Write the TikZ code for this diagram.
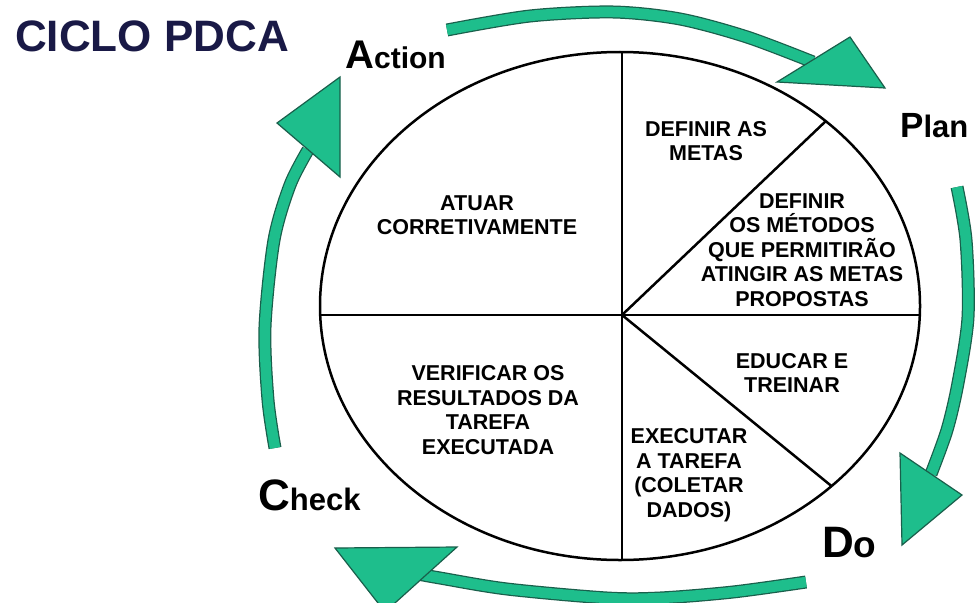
\documentclass[tikz,border=0pt]{standalone}
\usepackage{fontspec}
\setmainfont{Liberation Sans}
\definecolor{pdcagreen}{RGB}{30,190,140}
\definecolor{pdcaedge}{RGB}{25,95,75}
\definecolor{navy}{RGB}{25,25,70}
\begin{document}
\begin{tikzpicture}[x=1pt,y=-1pt,
  txt/.style={font=\fontsize{21.5}{24.5}\selectfont\bfseries, align=center, text=black, inner sep=0pt},
  lbl/.style={anchor=base west, inner sep=0pt, text=black, font=\bfseries},
  shaft/.style={draw=pdcagreen, line width=10.5pt, preaction={draw=pdcaedge, line width=13pt}},
  head/.style={fill=pdcagreen, draw=pdcaedge, line width=1.2pt, line join=miter},
  rim/.style={line width=2.5pt, draw=black}]
\useasboundingbox (0,0) rectangle (976,602);
\clip (0,0) rectangle (976,602);
\fill[white] (0,0) rectangle (976,602);

% ellipse and dividers
\draw[rim] (620,306) ellipse [x radius=300pt, y radius=254pt];
\coordinate (O) at (622,315);
\begin{scope}
  \clip (620,306) ellipse [x radius=300pt, y radius=254pt];
  \draw[rim] (622,30) -- (622,590);
  \draw[rim] (300,315) -- (940,315);
  \draw[rim] (O) -- (848,100);
  \draw[rim] (O) -- (851,502);
\end{scope}

% arrows
\draw[shaft] plot[smooth] coordinates {(447,30) (530,16) (613,12) (680,19) (747,37) (813,62)};
\filldraw[head] (777,82) -- (850,37) -- (885,88) -- cycle;

\draw[shaft] plot[smooth] coordinates {(957,187) (966,240) (968,317) (958,383) (947,430) (931,474)};
\filldraw[head] (900,453) -- (962,495) -- (902,545) -- cycle;

\draw[shaft] plot[smooth] coordinates {(806,582) (733,592) (660,598) (607,598) (507,589) (440,578) (418,574)};
\filldraw[head] (335,548) -- (457,547) -- (385,612) -- cycle;

\draw[shaft] plot[smooth] coordinates {(275,448) (268,400) (265,327) (274,240) (290,185) (308,150)};
\filldraw[head] (277,123) -- (340,77) -- (340,177) -- cycle;

% texts
\node[anchor=base west, inner sep=0pt, text=navy, font=\fontsize{44}{44}\selectfont\bfseries] (title) at (15,52) {CICLO PDCA};

\node[txt] (act) at (477,215) {ATUAR\\CORRETIVAMENTE};
\node[txt] (p1) at (706,141) {DEFINIR AS\\METAS};
\node[txt] (p2) at (802,250) {DEFINIR\\OS MÉTODOS\\QUE PERMITIRÃO\\ATINGIR AS METAS\\PROPOSTAS};
\node[txt] (d1) at (792,373) {EDUCAR E\\TREINAR};
\node[txt] (c1) at (488,410) {VERIFICAR OS\\RESULTADOS DA\\TAREFA\\EXECUTADA};
\node[txt] (d2) at (689,475) {EXECUTAR\\A TAREFA\\(COLETAR\\DADOS)};

\node[lbl] (A) at (345,68) {\fontsize{40}{40}\selectfont A\fontsize{30}{30}\selectfont ction};
\node[lbl] (P) at (900,137) {\fontsize{35}{35}\selectfont P\fontsize{31}{31}\selectfont lan};
\node[lbl] (D) at (822,557) {\fontsize{44}{44}\selectfont D\fontsize{37}{37}\selectfont o};
\node[lbl] (C) at (258,510) {\fontsize{44}{44}\selectfont C\fontsize{31}{31}\selectfont heck};
\end{tikzpicture}
\end{document}
